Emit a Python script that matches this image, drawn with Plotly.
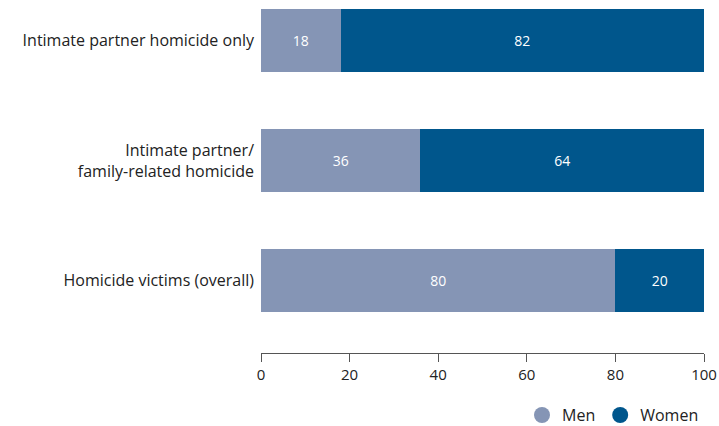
import plotly.graph_objects as go

# ==================================================
# DATA
# ==================================================
categories = [
    "Intimate partner homicide only",
    "Intimate partner/<br>family-related homicide",
    "Homicide victims (overall)",
]
men = [18, 36, 80]
women = [82, 64, 20]

men_color = "#8595b5"
women_color = "#00568c"

fig = go.Figure()

# -------------------
# Stacked bars
# -------------------
fig.add_trace(go.Bar(
    y=categories, x=men, orientation="h", name="Men",
    marker=dict(color=men_color, line=dict(width=0)),
    text=men, textposition="inside", insidetextanchor="middle",
    textfont=dict(color="white", size=14),
    showlegend=False,
))
fig.add_trace(go.Bar(
    y=categories, x=women, orientation="h", name="Women",
    marker=dict(color=women_color, line=dict(width=0)),
    text=women, textposition="inside", insidetextanchor="middle",
    textfont=dict(color="white", size=14),
    showlegend=False,
))

# circle legend entries
for name, color in [("Men", men_color), ("Women", women_color)]:
    fig.add_trace(go.Scatter(
        x=[None], y=[None], mode="markers", name=name,
        marker=dict(color=color, size=17, symbol="circle"),
        showlegend=True,
    ))

# -------------------
# Layout
# -------------------
fig.update_layout(
    width=719, height=426,
    barmode="stack",
    bargap=0.475,
    margin=dict(l=261, r=15, t=8, b=73, autoexpand=False),
    plot_bgcolor="white",
    paper_bgcolor="white",
    font=dict(family="Open Sans", size=16, color="#222222"),
    uniformtext=dict(mode="show", minsize=10),
    xaxis=dict(
        range=[0, 100], tickvals=[0, 20, 40, 60, 80, 100],
        showgrid=False, zeroline=False,
        showline=True, linecolor="#555555", linewidth=1,
        ticks="outside", ticklen=8, tickcolor="#555555",
        tickfont=dict(size=15, color="#222222"),
        fixedrange=True,
    ),
    yaxis=dict(
        categoryorder="array", categoryarray=categories,
        range=[2.604, -0.271],
        showgrid=False, zeroline=False, showline=False,
        ticks="", ticklabelstandoff=6,
        tickfont=dict(size=16, color="#222222"),
        fixedrange=True,
    ),
    legend=dict(
        orientation="h", x=1, xanchor="right", y=-0.18, yanchor="middle",
        font=dict(size=16, color="#222222"),
        itemsizing="trace", traceorder="normal",
        bgcolor="rgba(0,0,0,0)",
    ),
)

# drop the default page margin so the figure fills the window
fig.write_html(
    "out.html",
    config=dict(displayModeBar=False),
    post_script="document.body.style.margin='0';",
)
